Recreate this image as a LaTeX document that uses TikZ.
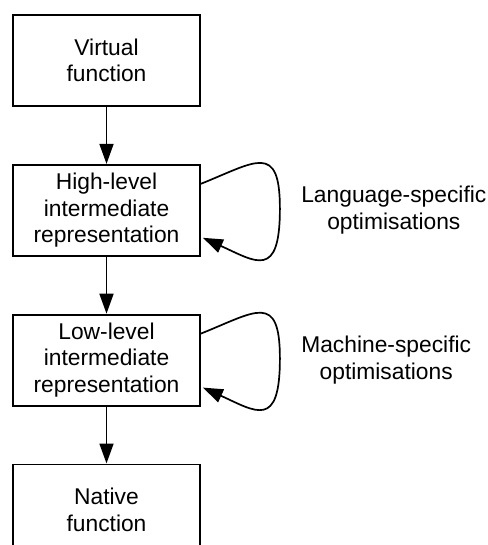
\documentclass[tikz,border=0pt]{standalone}
\usepackage{fontspec}
\setmainfont{Liberation Sans}
\usetikzlibrary{positioning,arrows.meta,calc}

\begin{document}
\begin{tikzpicture}[font=\fontsize{11.4}{13.3}\selectfont,
    stage/.style={draw,line width=0.9pt,minimum width=93.5pt,minimum height=45.5pt,align=center,inner sep=0pt},
    flow/.style={line width=0.85pt,-{Triangle[length=10pt,width=7pt]}},
    note/.style={align=center,inner sep=0pt},
    node distance=28.5pt]
            \useasboundingbox (0,0) rectangle (243.5pt,-272.5pt);
            \node[stage] (virt) at (53.25pt,-30.25pt) {Virtual\\function};
            \node[stage,below=of virt] (hlir) {High-level\\intermediate\\representation};
            \node[stage,below=of hlir] (llir) {Low-level\\intermediate\\representation};
            \node[stage,below=of llir] (native) {Native\\function};
            \node[note,right=50pt of hlir] (langopt) {Language-specific\\optimisations};
            \node[note,right=50pt of llir] (machopt) {Machine-specific\\optimisations};

            \draw[flow] (virt) -- (hlir);
            \draw[flow] (hlir) -- (llir);
            \draw[flow] (llir) -- (native);

            \draw[flow] ([yshift=13.25pt]hlir.east) .. controls ($(hlir.east)+(27.5pt,24.25pt)$) and ($(hlir.east)+(39.5pt,34.25pt)$) .. ($(hlir.east)+(39.5pt,0.75pt)$)
                .. controls ($(hlir.east)+(39.5pt,-34.75pt)$) and ($(hlir.east)+(27.5pt,-25.75pt)$) .. ([shift={(1pt,-13.75pt)}]hlir.east);
            \draw[flow] ([yshift=13.25pt]llir.east) .. controls ($(llir.east)+(27.5pt,24.25pt)$) and ($(llir.east)+(39.5pt,34.25pt)$) .. ($(llir.east)+(39.5pt,0.75pt)$)
                .. controls ($(llir.east)+(39.5pt,-34.75pt)$) and ($(llir.east)+(27.5pt,-25.75pt)$) .. ([shift={(1pt,-13.75pt)}]llir.east);
        \end{tikzpicture}
\end{document}
